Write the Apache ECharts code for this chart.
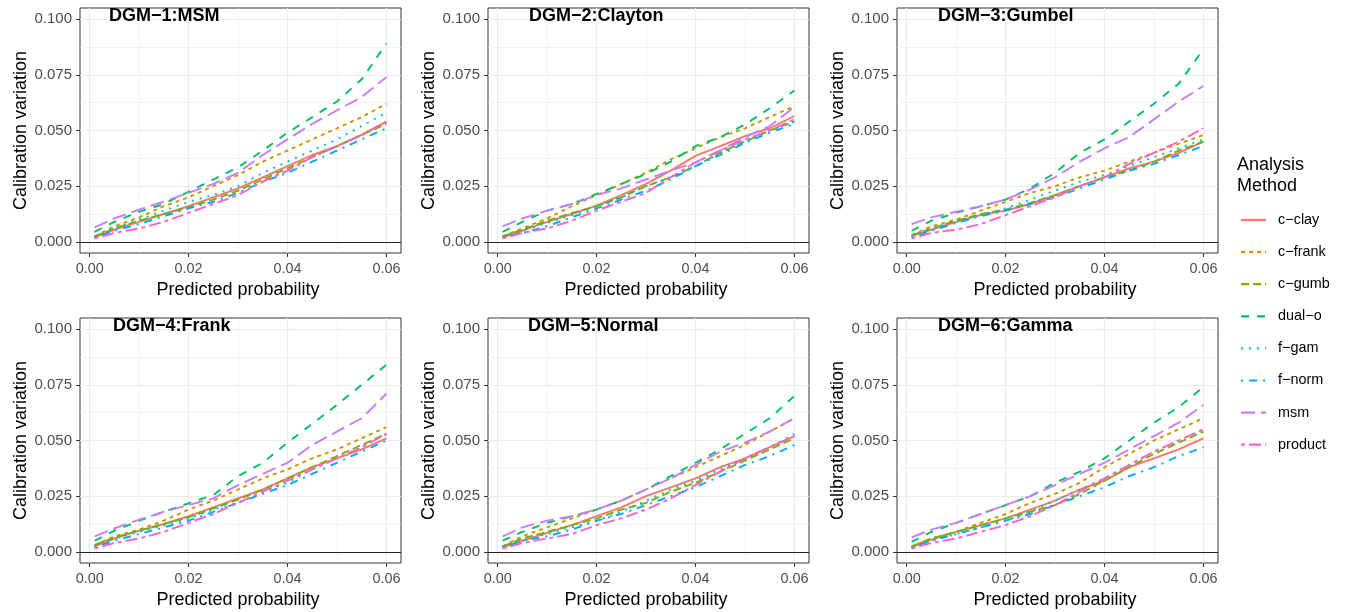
<!DOCTYPE html>
<html><head><meta charset="utf-8">
<script src="https://cdn.jsdelivr.net/npm/echarts@6/dist/echarts.min.js"></script>
<style>html,body{margin:0;padding:0;background:#fff}#c{width:1345px;height:612px}</style>
</head><body><div id="c"></div>
<script>
// ---------- data ----------
const methods = ['c−clay','c−frank','c−gumb','dual−o','f−gam','f−norm','msm','product'];
const panelTitles = ['DGM−1:MSM','DGM−2:Clayton','DGM−3:Gumbel','DGM−4:Frank','DGM−5:Normal','DGM−6:Gamma'];
const xValues = [0.001,0.005,0.01,0.015,0.02,0.025,0.03,0.035,0.04,0.045,0.05,0.055,0.06];

// each panel: rows in the order of `methods`
const dgm1 = [
  [0.002,0.0055,0.009,0.0125,0.016,0.020,0.024,0.029,0.034,0.039,0.043,0.048,0.054],
  [0.0025,0.007,0.011,0.016,0.020,0.025,0.030,0.036,0.041,0.046,0.051,0.056,0.062],
  [0.0025,0.006,0.0095,0.0125,0.0155,0.019,0.023,0.028,0.033,0.038,0.043,0.048,0.053],
  [0.0045,0.009,0.0135,0.017,0.0225,0.028,0.0335,0.041,0.049,0.056,0.063,0.073,0.089],
  [0.002,0.006,0.010,0.014,0.018,0.021,0.025,0.031,0.036,0.041,0.046,0.052,0.058],
  [0.002,0.005,0.008,0.0115,0.015,0.018,0.022,0.027,0.031,0.036,0.041,0.046,0.051],
  [0.0065,0.0105,0.0145,0.018,0.022,0.026,0.031,0.039,0.046,0.053,0.059,0.065,0.074],
  [0.0015,0.004,0.006,0.009,0.013,0.017,0.021,0.027,0.032,0.038,0.043,0.048,0.054]
];
const dgm2 = [
  [0.002,0.005,0.009,0.0125,0.0163,0.021,0.026,0.032,0.0386,0.043,0.0475,0.051,0.0565],
  [0.0025,0.006,0.0105,0.016,0.021,0.026,0.031,0.037,0.042,0.047,0.051,0.056,0.061],
  [0.0025,0.0055,0.0095,0.013,0.016,0.020,0.025,0.029,0.034,0.040,0.045,0.050,0.054],
  [0.0045,0.009,0.014,0.017,0.0215,0.026,0.0305,0.036,0.043,0.047,0.0527,0.060,0.068],
  [0.002,0.005,0.0085,0.012,0.016,0.020,0.025,0.029,0.034,0.040,0.045,0.050,0.054],
  [0.002,0.004,0.007,0.011,0.015,0.019,0.023,0.028,0.034,0.039,0.0445,0.049,0.053],
  [0.007,0.0105,0.014,0.017,0.021,0.024,0.028,0.032,0.0357,0.041,0.047,0.052,0.0606],
  [0.0015,0.004,0.006,0.0095,0.014,0.018,0.022,0.029,0.0357,0.041,0.046,0.050,0.055]
];
const dgm3 = [
  [0.0025,0.0055,0.009,0.012,0.014,0.017,0.021,0.025,0.029,0.033,0.036,0.040,0.045],
  [0.003,0.007,0.010,0.014,0.018,0.022,0.025,0.029,0.032,0.036,0.040,0.044,0.048],
  [0.003,0.006,0.0095,0.0125,0.0145,0.0175,0.021,0.025,0.029,0.032,0.036,0.041,0.045],
  [0.005,0.0095,0.013,0.016,0.019,0.024,0.031,0.040,0.046,0.054,0.062,0.071,0.0865],
  [0.0025,0.006,0.009,0.012,0.015,0.019,0.023,0.027,0.030,0.034,0.038,0.042,0.046],
  [0.002,0.005,0.0085,0.0115,0.014,0.017,0.020,0.024,0.028,0.032,0.035,0.039,0.043],
  [0.008,0.011,0.0135,0.016,0.019,0.0235,0.029,0.036,0.042,0.047,0.055,0.063,0.070],
  [0.0015,0.004,0.0055,0.008,0.012,0.016,0.020,0.025,0.029,0.035,0.040,0.045,0.051]
];
const dgm4 = [
  [0.0025,0.006,0.0095,0.0125,0.016,0.020,0.024,0.028,0.033,0.038,0.042,0.046,0.051],
  [0.003,0.007,0.010,0.014,0.019,0.023,0.028,0.033,0.037,0.042,0.046,0.051,0.056],
  [0.003,0.0065,0.0095,0.0125,0.0155,0.0195,0.0235,0.028,0.033,0.038,0.043,0.048,0.053],
  [0.005,0.0095,0.014,0.018,0.0218,0.0255,0.034,0.040,0.049,0.0575,0.066,0.075,0.084],
  [0.0025,0.006,0.009,0.012,0.015,0.019,0.022,0.027,0.031,0.037,0.042,0.047,0.053],
  [0.002,0.005,0.008,0.011,0.014,0.018,0.022,0.026,0.030,0.035,0.040,0.045,0.050],
  [0.007,0.0105,0.0145,0.018,0.021,0.024,0.030,0.035,0.040,0.048,0.054,0.060,0.071],
  [0.0015,0.004,0.006,0.009,0.013,0.017,0.022,0.027,0.032,0.037,0.042,0.047,0.053]
];
const dgm5 = [
  [0.002,0.005,0.0085,0.012,0.016,0.020,0.025,0.029,0.033,0.038,0.042,0.047,0.052],
  [0.0025,0.007,0.011,0.015,0.019,0.023,0.028,0.033,0.038,0.043,0.048,0.054,0.060],
  [0.0025,0.006,0.009,0.012,0.015,0.019,0.022,0.027,0.031,0.036,0.041,0.046,0.051],
  [0.005,0.009,0.013,0.016,0.019,0.023,0.028,0.034,0.040,0.046,0.053,0.060,0.070],
  [0.0025,0.005,0.008,0.011,0.014,0.018,0.023,0.028,0.032,0.037,0.042,0.047,0.053],
  [0.002,0.005,0.007,0.010,0.014,0.017,0.021,0.025,0.029,0.034,0.039,0.043,0.048],
  [0.007,0.011,0.014,0.016,0.019,0.023,0.028,0.033,0.039,0.045,0.049,0.054,0.060],
  [0.0015,0.004,0.006,0.008,0.012,0.015,0.019,0.024,0.030,0.036,0.042,0.047,0.052]
];
const dgm6 = [
  [0.002,0.0055,0.009,0.012,0.015,0.019,0.023,0.028,0.032,0.038,0.042,0.046,0.051],
  [0.0025,0.006,0.009,0.013,0.017,0.022,0.026,0.031,0.038,0.044,0.050,0.055,0.060],
  [0.0025,0.006,0.009,0.012,0.015,0.018,0.021,0.026,0.032,0.038,0.044,0.049,0.054],
  [0.0045,0.009,0.013,0.017,0.021,0.025,0.031,0.036,0.042,0.050,0.058,0.065,0.074],
  [0.002,0.005,0.008,0.011,0.014,0.018,0.023,0.028,0.033,0.039,0.045,0.050,0.055],
  [0.002,0.005,0.008,0.011,0.014,0.017,0.021,0.025,0.029,0.034,0.038,0.043,0.047],
  [0.0065,0.010,0.013,0.017,0.021,0.025,0.030,0.035,0.040,0.046,0.052,0.058,0.066],
  [0.0015,0.004,0.006,0.009,0.012,0.016,0.021,0.027,0.033,0.039,0.045,0.050,0.055]
];
const panels = [dgm1, dgm2, dgm3, dgm4, dgm5, dgm6];

// ---------- styles / layout ----------
const colors = ['#F8766D','#CD9600','#7CAE00','#00BE67','#00BFC4','#00A9FF','#C77CFF','#FF61CC'];
const dashes = ['solid',[4,4],[8,4],[8,8],[2,6],[2,6,8,6],[14,6],[4,4,12,4]];
const FONT = '"Liberation Sans", Arial, Helvetica, sans-serif';
const XMIN = -0.00195, XMAX = 0.06295, YMIN = -0.005, YMAX = 0.105;
const colLefts = [80, 488, 897], rowTops = [8, 318];
const W = 321, H = 245;
const titleLefts = [109, 529, 938, 113, 528, 938];

const grid = [], xAxis = [], yAxis = [], series = [], title = [];
const xOff = (0 - XMIN) / (XMAX - XMIN) * W, xW = 0.06 / (XMAX - XMIN) * W;
const yOff = (YMAX - 0.1) / (YMAX - YMIN) * H, yH = 0.1 / (YMAX - YMIN) * H;

panels.forEach((pd, p) => {
  const L = colLefts[p % 3], T = rowTops[Math.floor(p / 3)];
  const g = grid.length;
  grid.push({left: L, top: T, width: W, height: H, show: true, borderColor: '#333', borderWidth: 1, backgroundColor: 'transparent'});
  grid.push({left: L + xOff, top: T, width: xW, height: H});
  grid.push({left: L, top: T + yOff, width: W, height: yH});

  xAxis.push({gridIndex: g, type: 'value', min: XMIN, max: XMAX, show: false});
  yAxis.push({gridIndex: g, type: 'value', min: YMIN, max: YMAX, show: false});

  xAxis.push({
    gridIndex: g + 1, type: 'value', min: 0, max: 0.06, interval: 0.02,
    axisLine: {show: false},
    axisTick: {show: true, length: 4, lineStyle: {color: '#333', width: 1}},
    axisLabel: {color: '#4D4D4D', fontSize: 14.4, fontFamily: FONT, margin: 9, formatter: v => v.toFixed(2)},
    splitLine: {show: true, lineStyle: {color: '#EBEBEB', width: 1.1}},
    minorTick: {show: false, splitNumber: 2},
    minorSplitLine: {show: true, lineStyle: {color: '#EBEBEB', width: 0.6}},
    name: 'Predicted probability', nameLocation: 'middle', nameGap: 28,
    nameTextStyle: {color: '#000', fontSize: 18, fontFamily: FONT}
  });
  yAxis.push({gridIndex: g + 1, type: 'value', min: 0, max: 1, show: false});

  xAxis.push({gridIndex: g + 2, type: 'value', min: 0, max: 1, show: false});
  yAxis.push({
    gridIndex: g + 2, type: 'value', min: 0, max: 0.1, interval: 0.025,
    axisLine: {show: false},
    axisTick: {show: true, length: 4, lineStyle: {color: '#333', width: 1}},
    axisLabel: {color: '#4D4D4D', fontSize: 15, fontFamily: FONT, margin: 8, formatter: v => v.toFixed(3)},
    splitLine: {show: true, lineStyle: {color: '#EBEBEB', width: 1.1}},
    minorTick: {show: false, splitNumber: 2},
    minorSplitLine: {show: true, lineStyle: {color: '#EBEBEB', width: 0.6}},
    name: 'Calibration variation', nameLocation: 'middle', nameGap: 50,
    nameTextStyle: {color: '#000', fontSize: 18, fontFamily: FONT}
  });

  pd.forEach((vals, m) => {
    const s = {
      type: 'line', name: methods[m], xAxisIndex: g, yAxisIndex: g,
      data: xValues.map((x, i) => [x, vals[i]]),
      symbol: 'none', silent: true, animation: false,
      itemStyle: {color: colors[m]},
      lineStyle: {color: colors[m], width: 1.9, type: dashes[m]}
    };
    if (m === 0) {
      s.markLine = {silent: true, symbol: ['none', 'none'], label: {show: false}, animation: false,
        lineStyle: {color: '#222', width: 1.1, type: 'solid'}, data: [{yAxis: 0}]};
    }
    series.push(s);
  });

  title.push({text: panelTitles[p], left: titleLefts[p], top: T - 1, padding: 0,
    textStyle: {fontSize: 18, fontWeight: 'bold', color: '#000', fontFamily: FONT}});
});

title.push({text: 'Analysis\nMethod', left: 1237, top: 155, padding: 0,
  textStyle: {fontSize: 18, fontWeight: 'normal', color: '#000', fontFamily: FONT, lineHeight: 21}});

const option = {
  animation: false,
  backgroundColor: '#fff',
  title, grid, xAxis, yAxis, series,
  legend: {
    data: methods, orient: 'vertical', left: 1240, top: 213, padding: 0,
    itemWidth: 25, itemHeight: 14, itemGap: 18.1, selectedMode: false,
    itemStyle: {opacity: 0, color: 'transparent', borderWidth: 0},
    lineStyle: {width: 2.2},
    textStyle: {fontSize: 14.4, color: '#000', fontFamily: FONT, padding: [0, 0, 0, 7], lineHeight: 14}
  }
};
const chart = echarts.init(document.getElementById('c'), null, {renderer: 'canvas'});
chart.setOption(option);
</script></body></html>
